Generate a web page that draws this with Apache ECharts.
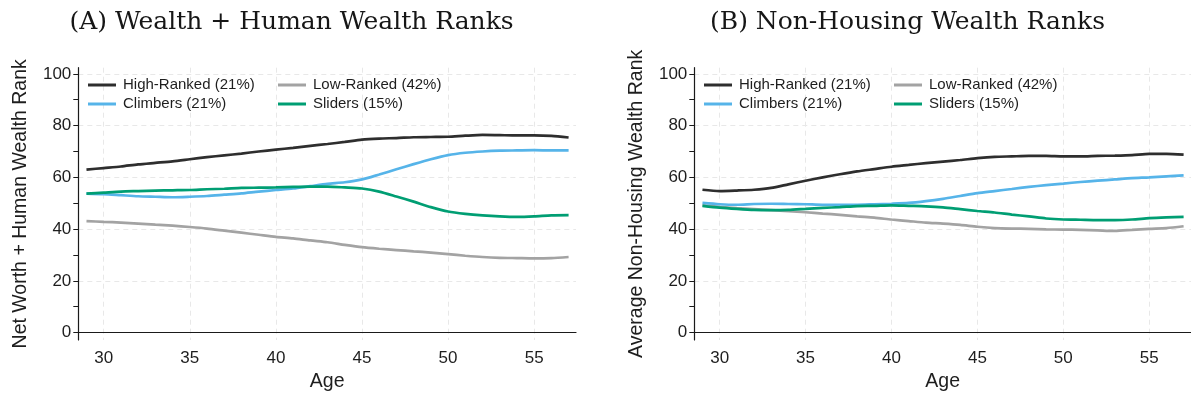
<!DOCTYPE html>
<html>
<head>
<meta charset="utf-8">
<script src="https://cdn.jsdelivr.net/npm/echarts@6/dist/echarts.min.js"></script>
<style>
html,body{margin:0;padding:0;background:#fff;}
#chart{width:1191px;height:397px;}
</style>
</head>
<body>
<div id="chart"></div>
<script>
// ---- data ----
const ages = [29,30,31,32,33,34,35,36,37,38,39,40,41,42,43,44,45,46,47,48,49,50,51,52,53,54,55,56,57];
const seriesNames = ['High-Ranked (21%)','Low-Ranked (42%)','Climbers (21%)','Sliders (15%)'];
const panelTitles = ['(A) Wealth + Human Wealth Ranks','(B) Non-Housing Wealth Ranks'];
const yTitles = ['Net Worth + Human Wealth Rank','Average Non-Housing Wealth Rank'];
const xTitle = 'Age';
const xTickValues = [30,35,40,45,50,55];
const yTickValues = [0,10,20,30,40,50,60,70,80,90,100];
const yLabelValues = [0,20,40,60,80,100];

// Panel A: Wealth + Human Wealth ranks
const aHigh  = [63.0,63.6,64.2,65.0,65.6,66.2,67.0,67.8,68.5,69.2,70.0,70.7,71.4,72.2,72.9,73.7,74.6,75.0,75.2,75.5,75.6,75.7,76.1,76.4,76.3,76.2,76.2,76.0,75.4];
const aLow   = [43.1,42.8,42.5,42.1,41.7,41.3,40.8,40.2,39.4,38.6,37.8,37.0,36.4,35.6,34.9,33.9,33.0,32.4,31.9,31.4,30.9,30.3,29.7,29.2,28.9,28.8,28.7,28.8,29.2];
const aClimb = [53.7,53.5,53.1,52.7,52.5,52.3,52.5,52.8,53.3,53.8,54.5,55.1,55.7,56.6,57.5,58.1,59.2,61.1,63.1,65.1,67.0,68.6,69.5,70.0,70.3,70.4,70.5,70.4,70.4];
const aSlide = [53.7,54.1,54.5,54.7,54.9,55.0,55.1,55.4,55.6,55.9,56.0,56.1,56.3,56.4,56.4,56.1,55.7,54.5,52.6,50.6,48.5,46.8,45.9,45.3,44.9,44.7,44.9,45.3,45.4];

// Panel B: Non-housing wealth ranks
const bHigh  = [55.2,54.7,54.9,55.2,55.9,57.3,58.7,60.0,61.2,62.3,63.2,64.1,64.8,65.5,66.1,66.7,67.4,67.9,68.1,68.3,68.3,68.1,68.1,68.3,68.4,68.6,69.1,69.1,68.8];
const bLow   = [49.2,48.6,48.1,47.7,47.3,46.9,46.5,46.0,45.5,44.9,44.4,43.7,43.1,42.5,42.1,41.6,40.9,40.4,40.2,40.1,39.9,39.8,39.7,39.5,39.3,39.7,40.1,40.4,41.1];
const bClimb = [50.1,49.6,49.4,49.7,49.8,49.7,49.6,49.4,49.4,49.4,49.6,49.8,50.1,50.8,51.7,52.8,53.9,54.7,55.5,56.3,57.0,57.6,58.2,58.7,59.2,59.7,60.0,60.4,60.8];
const bSlide = [49.0,48.3,47.8,47.4,47.3,47.4,47.8,48.2,48.5,48.9,49.0,49.2,49.0,48.8,48.4,47.7,47.0,46.4,45.6,44.9,44.1,43.7,43.6,43.5,43.5,43.7,44.2,44.5,44.7];

const panels = [[aHigh,aLow,aClimb,aSlide],[bHigh,bLow,bClimb,bSlide]];
const colors = ['#2e2e2e','#a3a3a3','#56b4e9','#009e73'];

// ---- layout ----
const SANS = 'Liberation Sans';
const TXT = '#1e1e1e';
const panelOffset = 616;
const gridLeft = 78.3, gridTop = 67.7, gridW = 497.7, gridH = 277.6;
const xMin = 28.525, xMax = 57.43, yMin = -2.88, yMax = 102.39;

const option = {
  animation: false,
  backgroundColor: '#fff',
  title: panelTitles.map((t,i)=>({
    text: t, left: 286.5 + i*panelOffset, top: 5, textAlign: 'center',
    textStyle: {fontFamily: 'DejaVu Serif', fontSize: 25, fontWeight: 'normal', color: '#161616'}
  })),
  legend: [],
  grid: [0,1].map(i=>({left: gridLeft + i*panelOffset, top: gridTop, width: gridW, height: gridH, containLabel: false})),
  xAxis: [0,1].map(i=>({
    gridIndex: i, type: 'value', min: xMin, max: xMax,
    name: xTitle, nameLocation: 'middle', nameGap: 32,
    nameTextStyle: {fontFamily: SANS, fontSize: 19.5, color: TXT},
    axisLine: {show: true, lineStyle: {color: '#1a1a1a', width: 1.2}},
    axisTick: {show: false, customValues: xTickValues},
    axisLabel: {customValues: xTickValues, fontFamily: SANS, fontSize: 17, color: TXT, margin: 10},
    splitLine: {show: true, lineStyle: {color: '#e8e8e8', width: 1, type: [5,4]}}
  })),
  yAxis: [],
  series: []
};

[0,1].forEach(i=>{
  option.yAxis.push({
    gridIndex: i, type: 'value', min: yMin, max: yMax,
    name: yTitles[i], nameLocation: 'middle', nameGap: 48,
    nameTextStyle: {fontFamily: SANS, fontSize: 19.5, color: TXT},
    axisLine: {show: true, lineStyle: {color: '#1a1a1a', width: 1.2}},
    axisTick: {show: true, length: 5, customValues: yTickValues, lineStyle: {color: '#1a1a1a', width: 1}},
    axisLabel: {customValues: yLabelValues, fontFamily: SANS, fontSize: 17, color: TXT, margin: 7},
    splitLine: {show: false}
  });
  option.yAxis.push({
    gridIndex: i, type: 'value', min: yMin, max: yMax,
    axisLine: {show: false},
    axisTick: {show: false, customValues: yLabelValues},
    axisLabel: {show: false, customValues: yLabelValues},
    splitLine: {show: true, lineStyle: {color: '#e8e8e8', width: 1, type: [5,4]}}
  });
  const legendCols = [[seriesNames[0], seriesNames[2]], [seriesNames[1], seriesNames[3]]];
  const colLeft = [88, 278];
  legendCols.forEach((names,c)=>{
    option.legend.push({
      data: names, orient: 'vertical', left: colLeft[c] + i*panelOffset, top: 75.5,
      itemWidth: 28, itemHeight: 3, itemGap: 0, icon: 'rect', selectedMode: false,
      padding: 0,
      textStyle: {fontFamily: SANS, fontSize: 15, color: TXT, lineHeight: 19, padding: [0,0,0,2]}
    });
  });
  panels[i].forEach((vals,k)=>{
    option.series.push({
      name: seriesNames[k], type: 'line', xAxisIndex: i, yAxisIndex: i*2,
      data: ages.map((a,j)=>[a, vals[j]]),
      showSymbol: false, symbol: 'none', smooth: 0.25,
      lineStyle: {color: colors[k], width: 2.7},
      itemStyle: {color: colors[k]},
      emphasis: {disabled: true}, z: 3 + k
    });
  });
});

const chart = echarts.init(document.getElementById('chart'), null, {renderer: 'canvas'});
chart.setOption(option);
</script>
</body>
</html>
